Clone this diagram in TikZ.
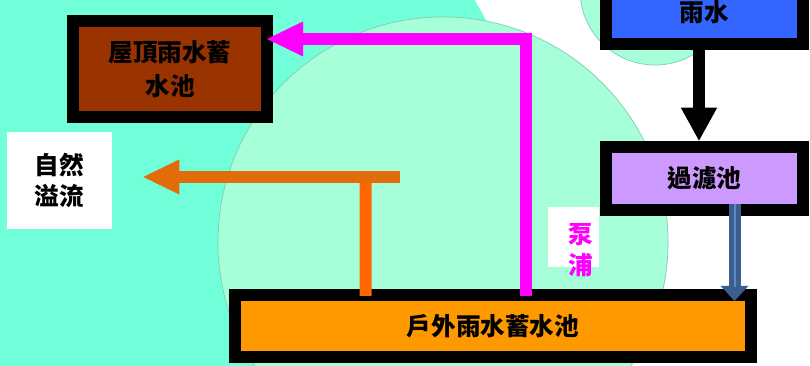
\documentclass[tikz,border=0pt]{standalone}
\usepackage{fontspec}
\newfontfamily\cjk{Noto Sans CJK TC}
\usepackage{tikz}
\usetikzlibrary{arrows.meta, positioning, calc}

\definecolor{bgcyan}{RGB}{112,255,216}
\definecolor{bglight}{RGB}{166,255,216}
\definecolor{bgrim}{RGB}{128,205,180}
\definecolor{roofbrown}{RGB}{153,51,0}
\definecolor{rainblue}{RGB}{51,102,255}
\definecolor{filterpurple}{RGB}{204,153,255}
\definecolor{tankorange}{RGB}{255,153,0}
\definecolor{pumpmagenta}{RGB}{255,0,255}
\definecolor{overflowline}{RGB}{227,108,10}
\definecolor{riserorange}{RGB}{255,102,0}
\definecolor{feedblue}{RGB}{59,94,143}
\definecolor{feedstripe}{RGB}{95,135,195}

\begin{document}
\begin{tikzpicture}[
        x=0.025cm, y=-0.025cm,
        box/.style={rectangle, draw=black, line width=0.3cm, inner sep=0pt, align=center, minimum width=4.9cm, minimum height=1.58cm, font=\cjk\bfseries\fontsize{17.5}{24}\selectfont},
        notebox/.style={rectangle, fill=white, inner sep=0pt, align=center, font=\cjk\bfseries\fontsize{17.5}{22}\selectfont},
        pipe/.style={line width=0.3cm},
        flow/.style={pipe, -{Triangle[length=0.9cm, width=0.875cm, line width=0pt]}}
    ]

    % Background
    \useasboundingbox (0,0) rectangle (810,366);
    \clip (0,0) rectangle (810,366);
    \fill[white] (0,0) rectangle (810,366);
    \fill[bgcyan] (180,180) circle[radius=8.625cm];
    \filldraw[fill=bglight, draw=bgrim, line width=0.5pt] (443,242) circle[radius=5.625cm];
    \filldraw[fill=bglight, draw=bgrim, line width=0.5pt] (655,-10) circle[radius=1.875cm];

    % Tanks
    \node (rain) [box, fill=rainblue] at (704.5,12) {雨水};
    \node (filter) [box, fill=filterpurple, below=2.275cm of rain] {過濾池};
    \node (roof) [box, fill=roofbrown, minimum width=4.85cm, minimum height=2.4cm] at (170,69) {屋頂雨水蓄\\水池};
    \node (tank) [box, fill=tankorange, minimum width=12.9cm, minimum height=1.55cm] at (493,326) {戶外雨水蓄水池};

    % Labels
    \node (overflow) [notebox, minimum width=2.625cm, minimum height=2.425cm] at (59.5,180.5) {自然\\溢流};
    \node (pumpbg) [notebox, minimum width=1.275cm, minimum height=1.5cm] at (573.5,237) {};
    \node (pump) [notebox, fill=none, text=pumpmagenta] at (581,250.5) {泵\\浦};

    % Pipes
    \coordinate (tee) at (400,177);
    \coordinate (riser) at (365.5,183);

    \draw [pipe, -{Triangle[length=0.825cm, width=0.91cm, line width=0pt]}] ($(rain.south)+(-5.5,0)$) -- ($(filter.north)+(-5.5,0)$);
    \draw [pipe, feedblue, -{Triangle[length=0.375cm, width=0.69cm, line width=0pt]},
        postaction={draw=feedstripe, line width=0.05cm, -, shorten >=0.35cm}] ($(filter.south)+(30,-12)$) -- ($(tank.north)+(241.5,12)$);

    \draw [flow, pumpmagenta] ($(tank.north)+(33,7)$) |- ($(roof.east)+(-6,-30)$);

    \draw [pipe, riserorange] ($(tank.north)+(-127.5,7)$) -- (riser);
    \draw [flow, overflowline] (tee) -- ($(overflow.east)+(31,-3.5)$);

\end{tikzpicture}
\end{document}
